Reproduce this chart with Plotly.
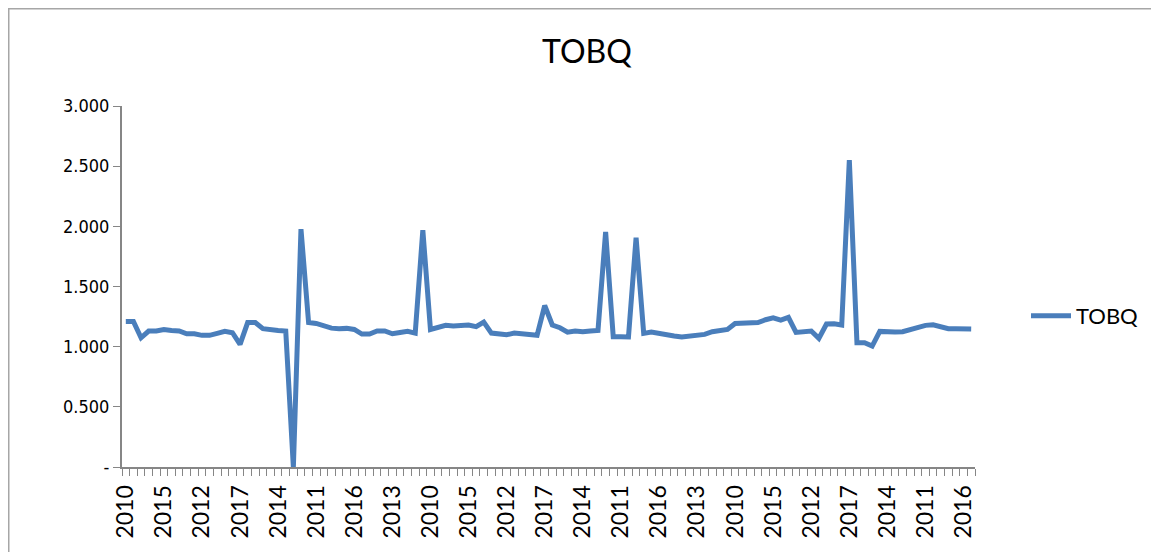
import plotly.graph_objects as go

years = [2010, 2011, 2012, 2013, 2014, 2015, 2016, 2017]
n_groups = 14
categories = [str(y) for _ in range(n_groups) for y in years]

tobq = [
    1.21, 1.21, 1.074, 1.13, 1.13, 1.143, 1.135, 1.13, 1.107, 1.107,
    1.094, 1.094, 1.11, 1.127, 1.116, 1.019, 1.20, 1.20, 1.15, 1.138,
    1.135, 1.13, 0.0, 1.977, 1.20, 1.193, 1.171, 1.154, 1.149, 1.152,
    1.143, 1.105, 1.105, 1.13, 1.13, 1.107, 1.118, 1.127, 1.113, 1.968,
    1.143, 1.157, 1.177, 1.171, 1.171, 1.18, 1.166, 1.204, 1.113, 1.11,
    1.099, 1.113, 1.107, 1.094, 1.094, 1.342, 1.18, 1.157, 1.121, 1.13,
    1.124, 1.13, 1.135, 1.954, 1.082, 1.082, 1.08, 1.905, 1.11, 1.121,
    1.107, 1.102, 1.088, 1.08, 1.084, 1.091, 1.102, 1.124, 1.13, 1.143,
    1.193, 1.193, 1.19, 1.20, 1.224, 1.24, 1.22, 1.243, 1.118, 1.121,
    1.13, 1.069, 1.188, 1.19, 1.18, 2.55, 1.033, 1.033, 1.005, 1.127,
    1.121, 1.121, 1.124, 1.143, 1.168, 1.177, 1.182, 1.166, 1.149, 1.149,
    1.149, 1.146,
]

y_tickvals = [0, 0.5, 1.0, 1.5, 2.0, 2.5, 3.0]
y_ticktext = ["-", "0.500", "1.000", "1.500", "2.000", "2.500", "3.000"]

label_step = 5
x_pos = list(range(len(tobq)))
x_tickvals = x_pos[::label_step]
x_ticktext = [categories[i] for i in x_tickvals]

# the page body adds an 8px offset; layout numbers below are in figure pixels
W, H = 1159, 552
L, R, T, B = 114, 192, 98, 93
pw, ph = W - L - R, H - T - B

FONT = "Lato, 'Open Sans', 'Liberation Sans', sans-serif"
NARROW = "'Liberation Sans Narrow', 'DejaVu Sans Condensed', Lato, sans-serif"
AXIS_GRAY = "#868686"

fig = go.Figure()
fig.add_trace(go.Scatter(
    x=x_pos, y=tobq, mode="lines", name="TOBQ",
    line=dict(color="#4A7EBB", width=5),
    cliponaxis=False,
))

fig.update_layout(
    width=W, height=H,
    margin=dict(l=L, r=R, t=T, b=B),
    paper_bgcolor="white", plot_bgcolor="white",
    font=dict(family=FONT, color="black"),
    title=dict(text="TOBQ", x=579 / W, xref="container", xanchor="center",
               y=1 - 44 / H, yref="container", yanchor="middle",
               font=dict(size=32, family=FONT, color="black")),
    showlegend=True,
    legend=dict(x=(1018 - L) / pw, y=(H - B - 308) / ph, xanchor="left",
                yanchor="middle", font=dict(size=22, family=FONT),
                bgcolor="rgba(0,0,0,0)", itemwidth=40),
    xaxis=dict(
        range=[-0.5, len(tobq) - 0.5],
        tickmode="array", tickvals=x_tickvals, ticktext=x_ticktext,
        tickangle=-90, tickfont=dict(size=23, family=FONT),
        ticklabelstandoff=7,
        ticks="", showgrid=False, zeroline=False,
        showline=True, linecolor=AXIS_GRAY, linewidth=2,
        minor=dict(tickmode="linear", tick0=-0.5, dtick=1, ticks="outside",
                   ticklen=7, tickcolor=AXIS_GRAY, tickwidth=1, showgrid=False),
    ),
    yaxis=dict(
        range=[0, 3.0],
        tickmode="array", tickvals=y_tickvals, ticktext=y_ticktext,
        tickfont=dict(size=18, family=NARROW),
        ticks="outside", ticklen=7, tickcolor=AXIS_GRAY, tickwidth=1,
        showgrid=False, zeroline=False,
        showline=True, linecolor=AXIS_GRAY, linewidth=2,
    ),
    shapes=[dict(
        type="rect", xref="paper", yref="paper",
        x0=(0.75 - L) / pw, x1=(1158 - L) / pw,
        y0=(H - 560 - B) / ph, y1=(H - 0.75 - B) / ph,
        line=dict(color="#a6a6a6", width=1.5), fillcolor="rgba(0,0,0,0)",
        layer="below",
    )],
)

fig.write_html("out.html")
